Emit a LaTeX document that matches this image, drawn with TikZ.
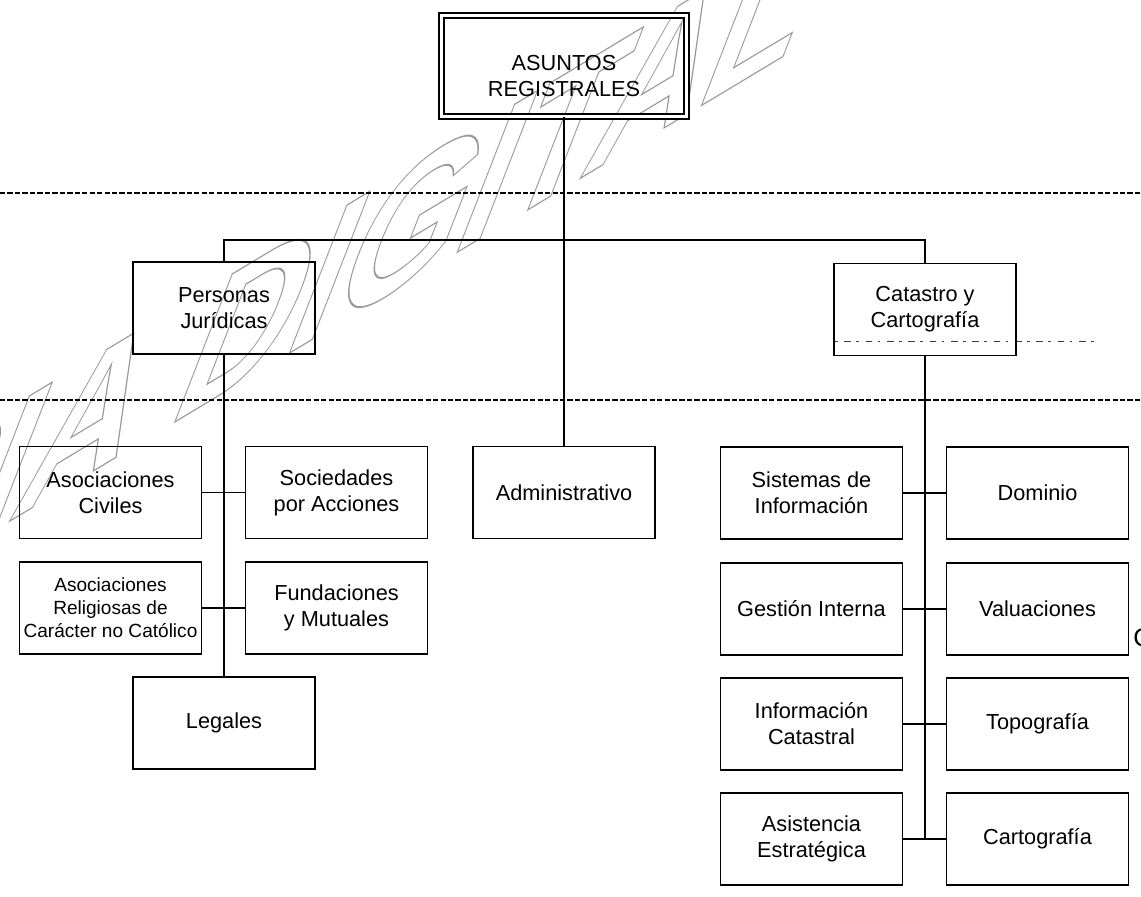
\documentclass[tikz,border=0pt]{standalone}
\usepackage{fontspec}
\setmainfont{Liberation Sans}
\newcommand{\outlinetext}[1]{\special{pdf:literal direct 1 Tr 1.1 w}#1\special{pdf:literal direct 0 Tr}}
\begin{document}
\begin{tikzpicture}[x=0.75pt,y=-0.75pt,
  boxfont/.style={font=\fontsize{16.3}{19.5}\selectfont},
  box/.style={draw, line width=1.4pt, minimum width=136.5pt, minimum height=69pt,
    inner sep=2pt, align=center, boxfont},
  topbox/.style={draw, line width=1.2pt, double, double distance=2.55pt,
    minimum width=183.4pt, minimum height=75.4pt, inner sep=0pt},
  conn/.style={line width=1.3pt},
  sepline/.style={line width=0.9pt, dash pattern=on 4pt off 1.6pt},
  wmark/.style={text=black!40, font=\fontsize{139}{139}\selectfont\bfseries}]
\useasboundingbox (0,0) rectangle (1141,896);
\fill[white] (0,0) rectangle (1141,896);

% watermark
\begin{scope}[shift={(202.5,405.3)}]
  \node[wmark, anchor=base, transform shape, cm={0.857,0.515,0.45,1.16,(0,0)}] (wm) at (0,0)
    {\outlinetext{COPIA DIGITAL}};
\end{scope}

% dashed separators
\coordinate (d1a) at (0,193);   \coordinate (d1b) at (1141,193);
\coordinate (d2a) at (0,400);   \coordinate (d2b) at (1141,400);
\draw[sepline] (d1a) -- (d1b);
\draw[sepline] (d2a) -- (d2b);
\coordinate (fa) at (835,341); \coordinate (fb) at (1095,341);
\draw[black!75, line width=0.6pt, dash pattern=on 2pt off 5pt on 5pt off 4pt] (fa) -- (fb);

% top
\node[topbox] (top) at (564,66) {};
\node[boxfont, align=center] (toptxt) at (564,76) {ASUNTOS\\REGISTRALES};

% second level
\node[box] (pj) at (224,308) {Personas\\Jurídicas};
\node[box] (cc) at (925,309.5) {Catastro y\\Cartografía};
\node[box] (adm) at (564,492.5) {Administrativo};

% left column
\node[box] (ac) at (110.5,492.5) {Asociaciones\\Civiles};
\node[box] (sa) at (336.5,492.5) {Sociedades\\por Acciones};
\node[box, font=\fontsize{14.3}{17.2}\selectfont] (ar) at (110.5,608) {Asociaciones\\Religiosas de\\Carácter no Católico};
\node[box] (fm) at (336.5,608) {Fundaciones\\y Mutuales};
\node[box] (leg) at (224,723) {Legales};

% right column
\node[box] (si) at (811.5,493) {Sistemas de\\Información};
\node[box] (dom) at (1037.5,493) {Dominio};
\node[box] (gi) at (811.5,609) {Gestión Interna};
\node[box] (val) at (1037.5,609) {Valuaciones};
\node[box] (ic) at (811.5,724) {Información\\Catastral};
\node[box] (topo) at (1037.5,724) {Topografía};
\node[box] (ae) at (811.5,839) {Asistencia\\Estratégica};
\node[box] (cart) at (1037.5,839) {Cartografía};

% cut-off letter at right edge
\node[anchor=west, inner sep=0pt, font=\fontsize{19}{19}\selectfont] (cpart) at (1133,638) {C};

% connectors
\coordinate (br) at (564,240);
\draw[conn] (top.south) -- (adm.north);
\draw[conn] (pj.north) |- (br) -| (cc.north);
\draw[conn] (pj.south) -- (leg.north);
\draw[conn] (ac.east) -- (sa.west);
\draw[conn] (ar.east) -- (fm.west);
\draw[conn] (cc.south) -- (cc.south |- ae.east);
\draw[conn] (si.east) -- (dom.west);
\draw[conn] (gi.east) -- (val.west);
\draw[conn] (ic.east) -- (topo.west);
\draw[conn] (ae.east) -- (cart.west);
\end{tikzpicture}
\end{document}
